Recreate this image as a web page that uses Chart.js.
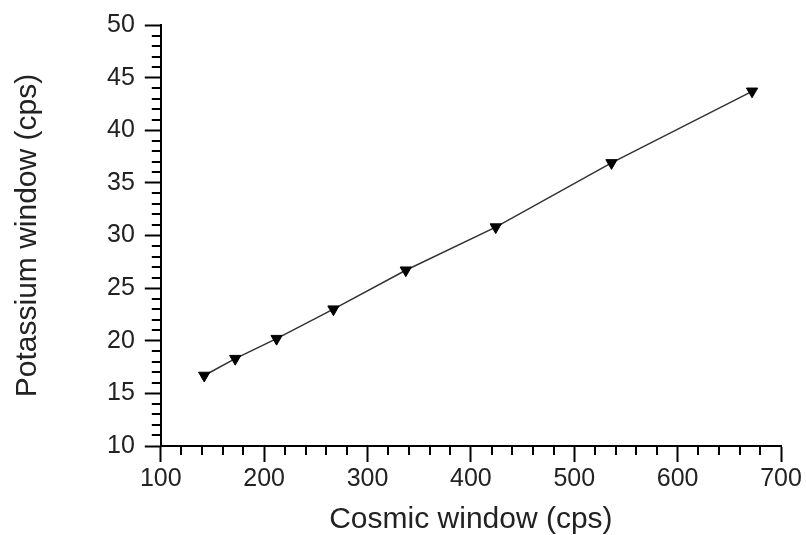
<!DOCTYPE html>
<html lang="en">
<head>
<meta charset="UTF-8">
<title>Potassium vs Cosmic window</title>
<script src="https://cdn.jsdelivr.net/npm/chart.js"></script>
<style>
  html, body { margin: 0; padding: 0; background: #fff; }
  #wrap { width: 806px; height: 535px; }
</style>
</head>
<body>
<div id="wrap"><canvas id="graph" width="806" height="535"></canvas></div>
<script>
// values
const cosmic = [142, 172, 212, 267, 337, 424, 536, 672];
const potassium = [16.7, 18.3, 20.2, 23.0, 26.7, 30.8, 36.9, 43.7];

const xMajor = [100, 200, 300, 400, 500, 600, 700];
const yMajor = [10, 15, 20, 25, 30, 35, 40, 45, 50];

const font = "'Liberation Sans', Arial, sans-serif";

// small ticks between the labelled ones
const minorTicks = {
  id: 'minorTicks',
  afterDraw(chart) {
    const ctx = chart.ctx;
    ctx.save();
    ctx.strokeStyle = '#000';
    ctx.lineWidth = 2;
    const xs = chart.scales.x, ys = chart.scales.y;
    xs.ticks.forEach(t => {
      if (xMajor.includes(t.value)) return;
      const px = Math.round(xs.getPixelForValue(t.value));
      ctx.beginPath();
      ctx.moveTo(px, xs.top);
      ctx.lineTo(px, xs.top + 9);
      ctx.stroke();
    });
    ys.ticks.forEach(t => {
      if (yMajor.includes(t.value)) return;
      const py = Math.round(ys.getPixelForValue(t.value));
      ctx.beginPath();
      ctx.moveTo(ys.right, py);
      ctx.lineTo(ys.right - 9, py);
      ctx.stroke();
    });
    ctx.restore();
  }
};

new Chart(document.getElementById('graph').getContext('2d'), {
  type: 'scatter',
  data: {
    datasets: [{
      label: 'Potassium window',
      data: cosmic.map((c, i) => ({ x: c, y: potassium[i] })),
      showLine: true,
      borderColor: '#333',
      borderWidth: 1.5,
      pointStyle: 'triangle',
      rotation: 180,
      pointRadius: 6.5,
      pointBackgroundColor: '#000',
      pointBorderColor: '#000',
      pointBorderWidth: 1
    }]
  },
  options: {
    responsive: false,
    animation: false,
    layout: { padding: { top: 22, right: 25, left: 10, bottom: 0 } },
    plugins: { legend: { display: false }, tooltip: { enabled: false } },
    scales: {
      x: {
        type: 'linear',
        min: 100, max: 700,
        border: { color: '#000', width: 2 },
        grid: {
          drawOnChartArea: false,
          tickLength: 16,
          tickWidth: 2,
          tickColor: c => xMajor.includes(c.tick.value) ? '#000' : 'rgba(0,0,0,0)'
        },
        ticks: {
          stepSize: 20,
          autoSkip: false,
          maxRotation: 0,
          color: '#222',
          font: { family: font, size: 25 },
          padding: 2,
          callback: v => xMajor.includes(v) ? v : ''
        },
        title: {
          display: true,
          text: 'Cosmic window (cps)',
          color: '#222',
          font: { family: font, size: 30, lineHeight: 1 },
          padding: { top: 9, bottom: 0 }
        }
      },
      y: {
        type: 'linear',
        min: 10, max: 50,
        border: { color: '#000', width: 2 },
        grid: {
          drawOnChartArea: false,
          tickLength: 16,
          tickWidth: 2,
          tickColor: c => yMajor.includes(c.tick.value) ? '#000' : 'rgba(0,0,0,0)'
        },
        ticks: {
          stepSize: 1,
          autoSkip: false,
          color: '#222',
          font: { family: font, size: 25 },
          padding: 10,
          callback: v => yMajor.includes(v) ? v : ''
        },
        title: {
          display: true,
          text: 'Potassium window (cps)',
          color: '#222',
          font: { family: font, size: 30 },
          padding: { top: 0, bottom: 51 }
        }
      }
    }
  },
  plugins: [minorTicks]
});
</script>
</body>
</html>
